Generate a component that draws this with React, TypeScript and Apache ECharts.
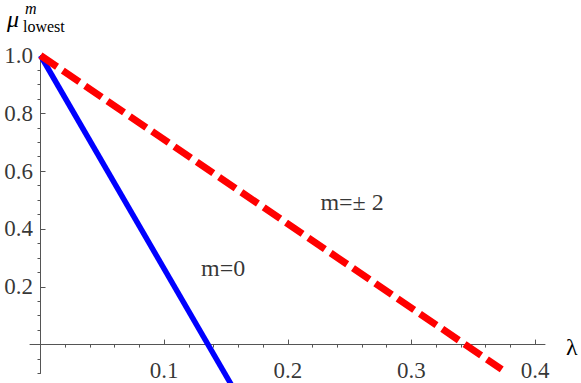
import React, { useEffect, useRef } from "react";
import * as echarts from "echarts";

const xRange = [-0.0085, 0.408];
const yRange = [-0.1, 1.0];
const xMajor = [0.1, 0.2, 0.3, 0.4];
const xMinor = [0.02, 0.04, 0.06, 0.08, 0.12, 0.14, 0.16, 0.18, 0.22, 0.24, 0.26, 0.28, 0.32, 0.34, 0.36, 0.38];
const yMajor = [0.2, 0.4, 0.6, 0.8, 1.0];
const yMinor = [-0.1, -0.05, 0.05, 0.1, 0.15, 0.25, 0.3, 0.35, 0.45, 0.5, 0.55, 0.65, 0.7, 0.75, 0.85, 0.9, 0.95];
const xTickLabels = ["0.1", "0.2", "0.3", "0.4"];
const yTickLabels = ["0.2", "0.4", "0.6", "0.8", "1.0"];
const blueLine = [[0, 1], [0.155, -0.144]];
const redLine = [[0, 1], [0.373, -0.086]];
const annotationText = ["m=± 2", "m=0"];
const annotationPos = [[0.252, 0.493], [0.1477, 0.265]];

const FONT = "Liberation Serif";
const AXIS_COLOR = "#555";

export default function App() {
  const ref = useRef<HTMLDivElement>(null);
  useEffect(() => {
    if (!ref.current) return;
    const chart = echarts.init(ref.current, undefined, { renderer: "svg" });
    const baseX = {
      type: "value",
      min: xRange[0],
      max: xRange[1],
      splitLine: { show: false },
      axisLabel: { show: false },
      axisLine: { onZero: true, lineStyle: { color: AXIS_COLOR, width: 1 } },
    };
    const baseY = {
      type: "value",
      min: yRange[0],
      max: yRange[1],
      splitLine: { show: false },
      axisLabel: { show: false },
      axisLine: { onZero: true, lineStyle: { color: AXIS_COLOR, width: 1 } },
    };
    const labelSeries = (data: any[], position: string, distance: number, size: number) => ({
      type: "scatter",
      xAxisIndex: 0,
      yAxisIndex: 0,
      symbolSize: 1,
      silent: true,
      itemStyle: { color: "rgba(0,0,0,0)" },
      data,
      label: {
        show: true,
        position,
        distance,
        formatter: (p: any) => p.name,
        fontFamily: FONT,
        fontSize: size,
        color: "#000",
      },
    });
    chart.setOption({
      animation: false,
      grid: { left: 30, right: 36, top: 55.5, bottom: 9.5, outerBoundsMode: "none" },
      xAxis: [
        {
          ...baseX,
          axisTick: { show: true, inside: true, length: 5, customValues: xMajor, lineStyle: { color: AXIS_COLOR } },
        },
        {
          ...baseX,
          axisLine: { show: false, onZero: true },
          axisTick: { show: true, inside: true, length: 3, customValues: xMinor, lineStyle: { color: AXIS_COLOR } },
        },
      ],
      yAxis: [
        {
          ...baseY,
          axisTick: { show: true, inside: true, length: 5, customValues: yMajor, lineStyle: { color: AXIS_COLOR } },
        },
        {
          ...baseY,
          axisLine: { show: false, onZero: true },
          axisTick: { show: true, inside: true, length: 3, customValues: yMinor, lineStyle: { color: AXIS_COLOR } },
        },
      ],
      series: [
        {
          type: "line",
          xAxisIndex: 0,
          yAxisIndex: 0,
          data: blueLine,
          symbol: "none",
          clip: false,
          lineStyle: { color: "#0000ff", width: 5.5, cap: "butt" },
        },
        {
          type: "line",
          xAxisIndex: 0,
          yAxisIndex: 0,
          data: redLine,
          symbol: "none",
          clip: false,
          lineStyle: { color: "#ff0000", width: 7, type: [20, 7], cap: "butt" },
        },
        labelSeries(annotationPos.map((p, i) => ({ value: p, name: annotationText[i] })), "inside", 0, 24),
        labelSeries(xMajor.map((v, i) => ({ value: [v, 0], name: xTickLabels[i] })), "bottom", 14, 23),
        labelSeries(yMajor.map((v, i) => ({ value: [0, v], name: yTickLabels[i] })), "left", 7, 23),
      ],
      graphic: [
        {
          type: "text",
          left: 566,
          top: 335,
          style: { text: "λ", font: `24px ${FONT}`, fill: "#000" },
        },
        {
          type: "text",
          x: 7,
          y: 18.6,
          style: { text: "μ", font: `italic 24px ${FONT}`, fill: "#000", align: "left", verticalAlign: "middle" },
        },
        {
          type: "text",
          x: 25,
          y: 8,
          style: { text: "m", font: `italic 16px ${FONT}`, fill: "#000", align: "left", verticalAlign: "middle" },
        },
        {
          type: "text",
          x: 23,
          y: 26,
          style: { text: "lowest", font: `16px ${FONT}`, fill: "#000", align: "left", verticalAlign: "middle" },
        },
      ],
    });
    return () => chart.dispose();
  }, []);
  return (
    <div
      ref={ref}
      style={{ position: "fixed", left: 0, top: 0, width: 581, height: 383, background: "#fff" }}
    />
  );
}
